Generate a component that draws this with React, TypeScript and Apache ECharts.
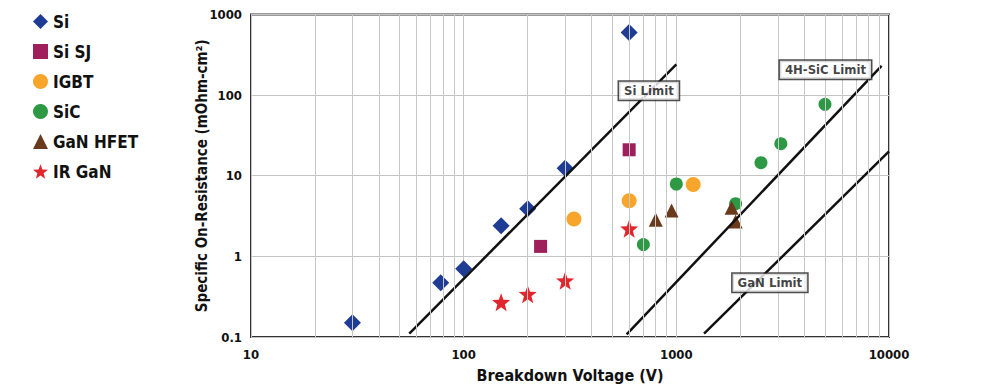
import React, { useEffect, useRef } from "react";
import * as echarts from "echarts";

// ---- data ----
const siData: [number, number][] = [
  [30, 0.15], [78, 0.47], [100, 0.7], [150, 2.4], [200, 3.9], [300, 12.4], [600, 600],
];
const siSJData: [number, number][] = [[230, 1.33], [600, 21]];
const igbtData: [number, number][] = [[330, 2.9], [600, 4.9], [1200, 7.8]];
const sicData: [number, number][] = [
  [700, 1.4], [1000, 7.9], [1900, 4.5], [2500, 14.5], [3100, 25], [5000, 77],
];
const ganHfetData: [number, number][] = [[800, 2.85], [950, 3.7], [1820, 4.0], [1900, 2.7]];
const irGanData: [number, number][] = [[78, 0.088], [150, 0.27], [200, 0.34], [300, 0.5], [600, 2.2]];

const siLimit: [number, number][] = [[55.5, 0.11], [1000, 240]];
const sicLimit: [number, number][] = [[584, 0.108], [9230, 230]];
const ganLimit: [number, number][] = [[1350, 0.11], [10000, 20]];

const limitLabels: { name: string; value: [number, number] }[] = [
  { name: "Si Limit", value: [743, 113] },
  { name: "4H-SiC Limit", value: [5025, 206] },
  { name: "GaN Limit", value: [2754, 0.47] },
];

const minorX: number[] = [
  20, 30, 40, 50, 60, 70, 80, 90,
  200, 300, 400, 500, 600, 700, 800, 900,
  2000, 3000, 4000, 5000, 6000, 7000, 8000, 9000,
];

const legendNames = ["Si", "Si SJ", "IGBT", "SiC", "GaN HFET", "IR GaN"];
const xAxisName = "Breakdown Voltage (V)";
const yAxisName = "Specific On-Resistance (mOhm-cm²)";

const FONT = "'Liberation Sans Narrow', 'DejaVu Sans Condensed', 'Roboto Condensed', 'Arial Narrow', sans-serif";
const STAR = "path://M12,1 L14.9,8.9 L23.3,9.2 L16.7,14.4 L19,22.6 L12,17.9 L5,22.6 L7.3,14.4 L0.7,9.2 L9.1,8.9 Z";

export default function App() {
  const ref = useRef<HTMLDivElement>(null);
  useEffect(() => {
    if (!ref.current) return;
    const chart = echarts.init(ref.current, undefined, { renderer: "svg" });
    const scatter = (name: string, data: [number, number][], symbol: string, size: number, color: string) => ({
      name,
      type: "scatter",
      data,
      symbol,
      symbolSize: size,
      itemStyle: { color, opacity: 1 },
      z: 3,
    });
    const limit = (name: string, data: [number, number][]) => ({
      name,
      type: "line",
      data,
      symbol: "none",
      lineStyle: { color: "#111", width: 2.5 },
      z: 4,
      silent: true,
    });
    chart.setOption({
      animation: false,
      backgroundColor: "#fff",
      textStyle: { fontFamily: FONT },
      legend: {
        data: legendNames,
        orient: "vertical",
        left: 20,
        top: 0,
        itemGap: 13,
        itemWidth: 15,
        itemHeight: 15,
        textStyle: { fontFamily: FONT, fontWeight: "bold", fontSize: 17, color: "#111" },
        selectedMode: false,
      },
      grid: {
        left: 243,
        right: 101,
        top: 6,
        bottom: 48,
        show: true,
        borderColor: "#333",
        borderWidth: 2,
      },
      xAxis: {
        type: "log",
        min: 10,
        max: 10000,
        logBase: 10,
        name: xAxisName,
        nameLocation: "middle",
        nameGap: 30,
        nameMoveOverlap: false,
        nameTextStyle: { fontFamily: FONT, fontWeight: "bold", fontSize: 16, color: "#111" },
        axisLine: { show: false },
        axisTick: { show: false },
        axisLabel: {
          fontFamily: FONT, fontWeight: "bold", fontSize: 13, color: "#111", margin: 11,
          formatter: (v: number) => String(v),
        },
        splitLine: { show: true, lineStyle: { color: "#c4c4c4", width: 1 } },
      },
      yAxis: {
        type: "log",
        min: 0.1,
        max: 1000,
        logBase: 10,
        name: yAxisName,
        nameLocation: "middle",
        nameGap: 42,
        nameMoveOverlap: false,
        nameTextStyle: { fontFamily: FONT, fontWeight: "bold", fontSize: 15, color: "#111" },
        axisLine: { show: false },
        axisTick: { show: false },
        axisLabel: {
          fontFamily: FONT, fontWeight: "bold", fontSize: 13, color: "#111", margin: 9,
          formatter: (v: number) => String(v),
        },
        splitLine: { show: true, lineStyle: { color: "#c4c4c4", width: 1 } },
      },
      series: [
        {
          name: "grid-minor",
          type: "line",
          data: [],
          silent: true,
          z: 1,
          markLine: {
            silent: true,
            symbol: "none",
            label: { show: false },
            lineStyle: { color: "#c8c8c8", width: 1, type: "solid" },
            data: minorX.map((x) => ({ xAxis: x })),
          },
        },
        scatter("Si", siData, "diamond", 17, "#1f3c94"),
        scatter("Si SJ", siSJData, "rect", 13, "#9e1f5c"),
        scatter("IGBT", igbtData, "circle", 15, "#f8a62b"),
        scatter("SiC", sicData, "circle", 13, "#2e9944"),
        scatter("GaN HFET", ganHfetData, "triangle", 14, "#6a3a1c"),
        scatter("IR GaN", irGanData, STAR, 18, "#e2262e"),
        limit("Si Limit", siLimit),
        limit("4H-SiC Limit", sicLimit),
        limit("GaN Limit", ganLimit),
        {
          name: "limit-labels",
          type: "scatter",
          data: limitLabels,
          symbolSize: 1,
          itemStyle: { color: "transparent" },
          z: 6,
          silent: true,
          label: {
            show: true,
            position: "inside",
            formatter: (p: any) => p.name,
            fontFamily: FONT,
            fontWeight: "bold",
            fontSize: 13,
            color: "#111",
            backgroundColor: "#fff",
            borderColor: "#222",
            borderWidth: 1.5,
            padding: [3, 5, 2, 5],
          },
        },
      ],
    });
    return () => chart.dispose();
  }, []);
  return <div ref={ref} style={{ width: 982, height: 380 }} />;
}
